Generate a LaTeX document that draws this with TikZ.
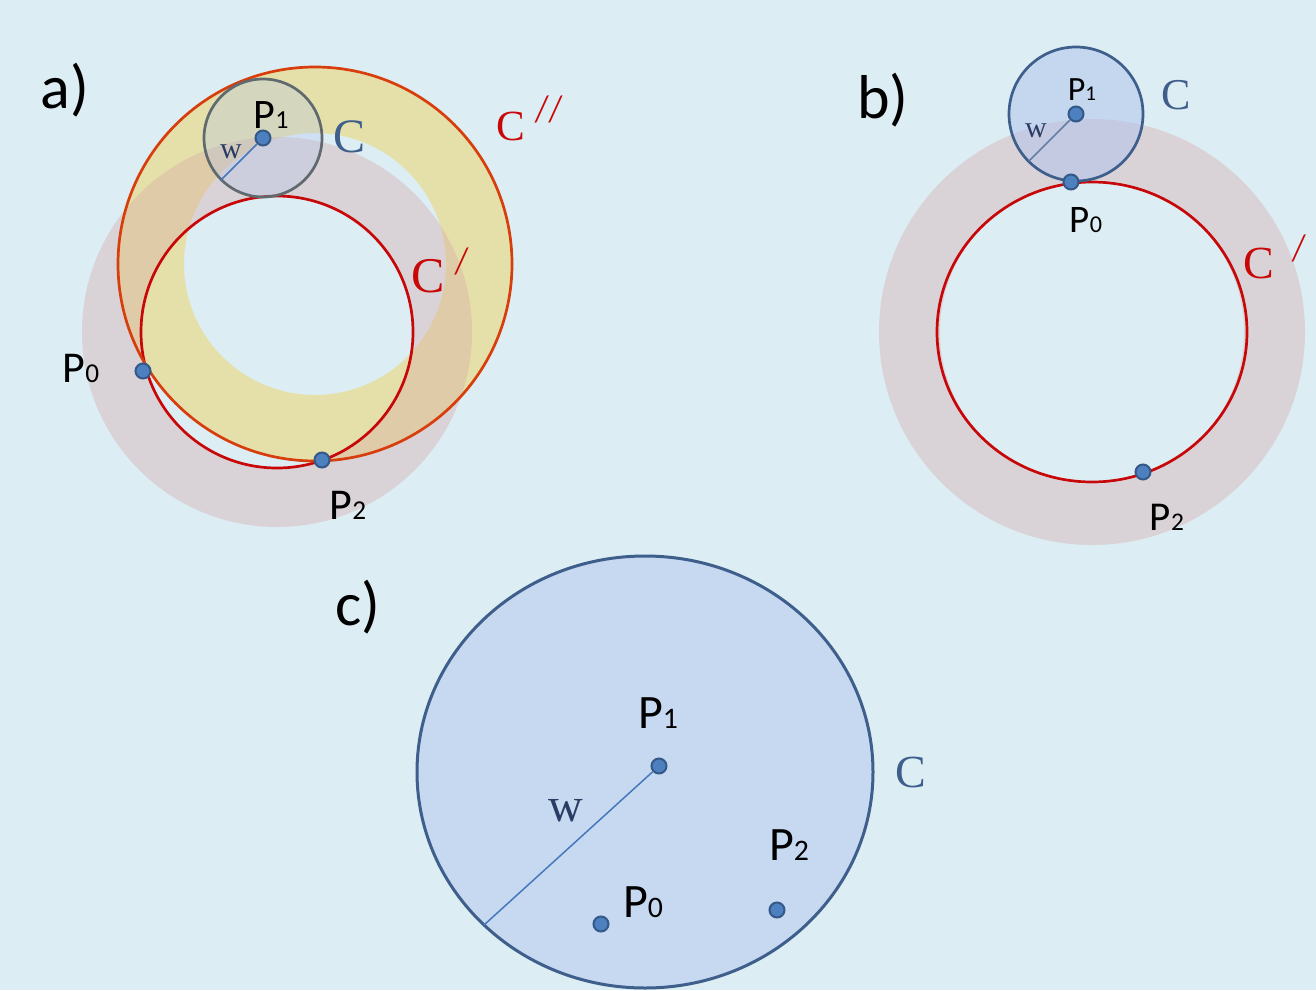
\documentclass[tikz,border=0pt]{standalone}
\usepackage{fontspec}
\usepackage{graphicx}
\setmainfont{Liberation Serif}
\newfontfamily\carl{Carlito}
\usetikzlibrary{positioning}

\definecolor{bgblue}{RGB}{220,237,243}
\definecolor{ringyellow}{RGB}{229,224,170}
\definecolor{ringpink}{RGB}{214,163,163}
\definecolor{cred}{RGB}{200,8,8}
\definecolor{corange}{RGB}{216,62,12}
\definecolor{cblue}{RGB}{62,94,140}
\definecolor{cgray}{RGB}{95,105,110}
\definecolor{cfill}{RGB}{174,195,237}
\definecolor{bigfill}{RGB}{198,217,240}
\definecolor{dotblue}{RGB}{76,128,190}
\definecolor{dotedge}{RGB}{52,88,135}
\definecolor{wline}{RGB}{70,120,190}
\definecolor{wtext}{RGB}{40,60,100}

\newcommand{\Pn}[1]{P\scalebox{0.62}{#1}}
\newcommand{\prm}[1]{\raisebox{#1}{\scalebox{1}[1.25]{\fontsize{30}{30}\selectfont\carl\itshape /}}}

\tikzset{
  dot/.style={circle, fill=dotblue, draw=dotedge, line width=2pt,
    minimum size=15pt, inner sep=0pt},
  plab/.style={font=\carl\fontsize{#1}{#1}\selectfont, inner sep=0pt},
  panel/.style={font=\carl\fontsize{62}{62}\selectfont, inner sep=0pt},
  clab/.style={font=\fontsize{#1}{#1}\selectfont, inner sep=0pt},
  wlab/.style={font=\fontsize{#1}{#1}\selectfont, text=wtext, inner sep=0pt},
  radline/.style={wline, line width=1.5pt}
}

\begin{document}
\begin{tikzpicture}[x=1pt, y=-1pt]
\fill[bgblue] (0,0) rectangle (1316,990);
\useasboundingbox (0,0) rectangle (1316,990);

% a)
\fill[ringyellow, even odd rule] (315,264) circle[radius=197pt] (315,264) circle[radius=131pt];
\fill[ringpink, opacity=.34, even odd rule] (277,332) circle[radius=195pt] (277,332) circle[radius=136pt];
\draw[cred, line width=2.7pt] (277,332) circle[radius=136pt];
\draw[corange, line width=2.7pt] (315,264) circle[radius=197pt];
\fill[cfill, opacity=.3] (263,138) circle[radius=59pt];
\draw[cgray, line width=2.7pt] (263,138) circle[radius=59pt];
\node[dot] (a1) at (263,138) {};
\node[dot] (a0) at (143,371) {};
\node[dot] (a2) at (322,460) {};
\coordinate (aw) at (221,180);
\draw[radline] (a1) -- (aw);
\node[panel] (apanel) at (65,90) {a)};
\node[plab=42] (a1lab) at (271,115) {\Pn{1}};
\node[plab=44] (a0lab) at (81,368) {\Pn{0}};
\node[plab=44] (a2lab) at (348,505) {\Pn{2}};
\node[wlab=30] (awlab) at (231,152) {w};
\node[clab=48, text=cblue] (aC) at (350,137) {C};
\node[clab=50, text=cred, anchor=west] (aC1) at (411,270) {C\hspace{11pt}\prm{19pt}};
\node[clab=43, text=cred, anchor=west] (aC2) at (496,118) {C\hspace{11pt}\prm{19pt}\hspace{2pt}\prm{19pt}};

% b)
\fill[ringpink, opacity=.34, even odd rule] (1092,332) circle[radius=213pt] (1092,332) circle[radius=152pt];
\draw[cred, line width=2.7pt] (1092,332) ellipse[x radius=155pt, y radius=150pt];
\fill[cfill, opacity=.5] (1076,114) circle[radius=67pt];
\draw[cblue, line width=2.7pt] (1076,114) circle[radius=67pt];
\node[dot] (b1) at (1076,114) {};
\node[dot] (b0) at (1071,182) {};
\node[dot] (b2) at (1143,472) {};
\coordinate (bw) at (1029,161);
\draw[radline, cblue!80] (b1) -- (bw);
\node[panel] (bpanel) at (883,100) {b)};
\node[plab=34] (b1lab) at (1082,90) {\Pn{1}};
\node[plab=39] (b0lab) at (1086,220) {\Pn{0}};
\node[plab=41] (b2lab) at (1167,517) {\Pn{2}};
\node[wlab=30] (bwlab) at (1036,131) {w};
\node[clab=44, text=cblue] (bC) at (1176,95) {C};
\node[clab=46, text=cred, anchor=west] (bC1) at (1243,257) {C\hspace{19pt}\prm{18pt}};

% c)
\draw[cblue, line width=3pt, fill=bigfill] (645,772) ellipse[x radius=228pt, y radius=216pt];
\node[dot] (c1) at (659,766) {};
\node[dot] (c0) at (601,924) {};
\node[dot] (c2) at (777,910) {};
\coordinate (cw) at (484,925);
\draw[radline] (c1) -- (cw);
\node[panel] (cpanel) at (358,607) {c)};
\node[plab=48] (c1lab) at (658,713) {\Pn{1}};
\node[plab=48] (c0lab) at (643,902) {\Pn{0}};
\node[plab=48] (c2lab) at (789,845) {\Pn{2}};
\node[wlab=48] (cwlab) at (566,811) {w};
\node[clab=46, text=cblue] (cC) at (911,772) {C};
\end{tikzpicture}
\end{document}
